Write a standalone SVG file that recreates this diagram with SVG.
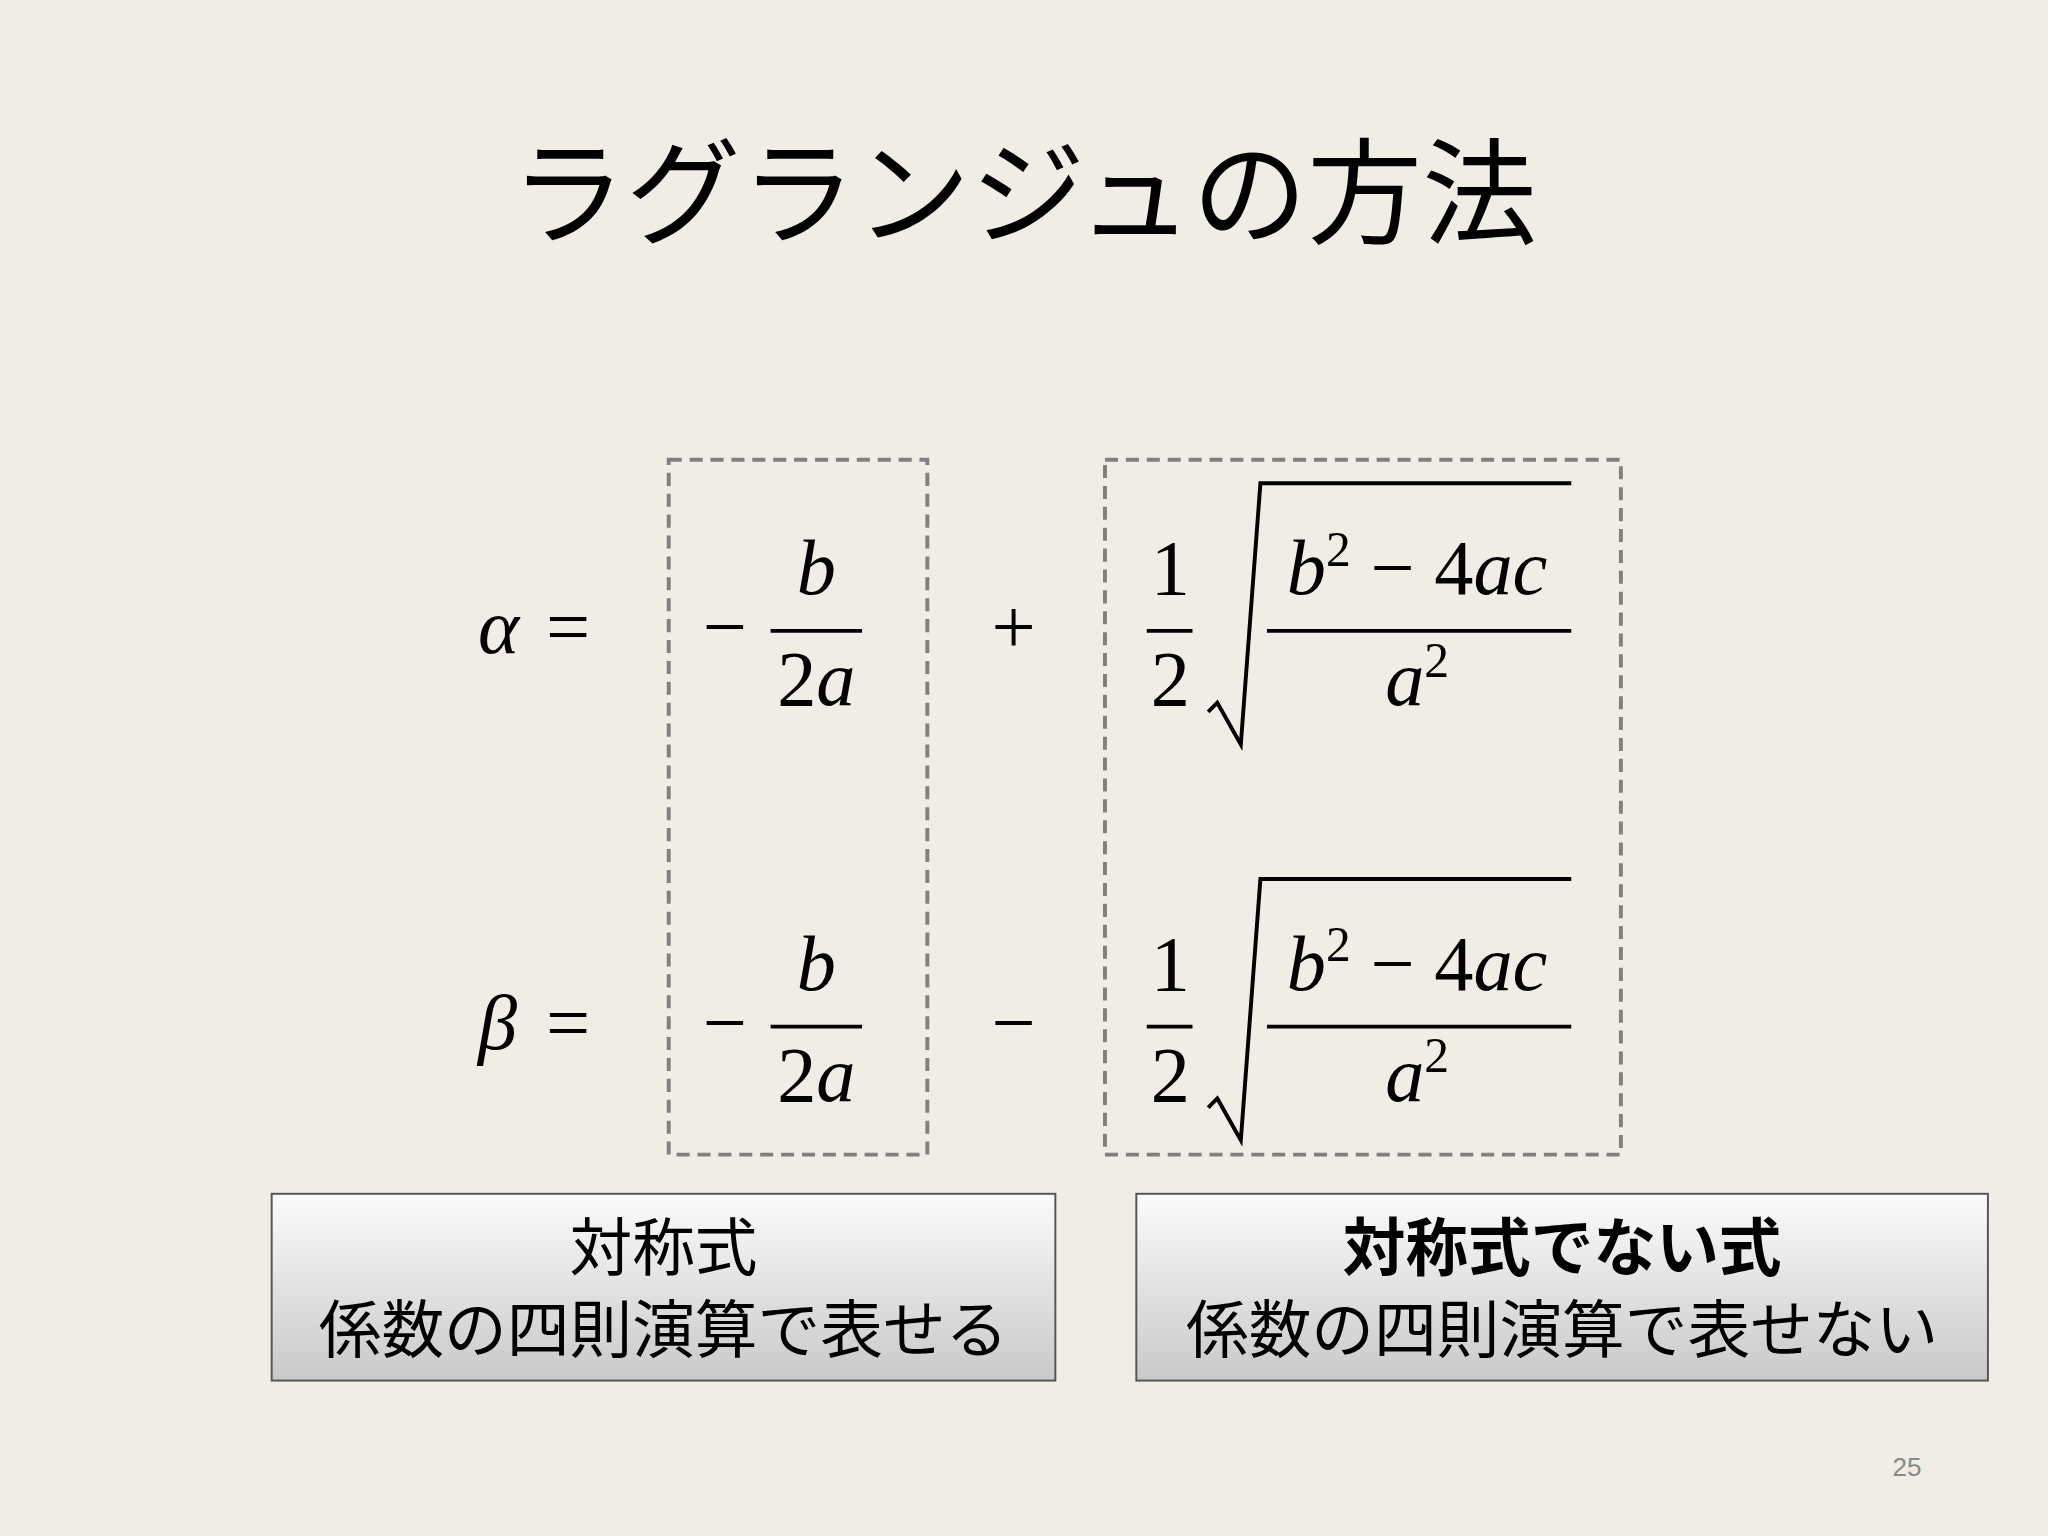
<svg xmlns="http://www.w3.org/2000/svg" width="2048" height="1536" viewBox="0 0 2048 1536">
<defs>
<linearGradient id="g" x1="0" y1="0" x2="0" y2="1"><stop offset="0" stop-color="#fbfbfb"/><stop offset="1" stop-color="#c9c9c9"/></linearGradient>
<style>
.m{font-family:"Liberation Serif","DejaVu Serif",serif;font-size:60px;fill:#000}
.i{font-style:italic}
.s{font-size:38px}
.j{font-family:"Noto Sans CJK JP",sans-serif;font-size:48px;fill:#000;text-anchor:middle}
.d{fill:none;stroke:#808080;stroke-width:3;stroke-dasharray:10,6}
.l{stroke:#000;stroke-width:3;fill:none}
.b{fill:url(#g);stroke:#555;stroke-width:1.5}
</style>
</defs>
<rect width="2048" height="1536" fill="#efede5"/>
<g transform="scale(1.30612)">
<text x="784" y="180" font-family="Noto Sans CJK JP,sans-serif" font-size="88" text-anchor="middle">ラグランジュの方法</text>
<g id="box1"><rect class="d" x="512" y="352" width="198" height="532"/></g>
<g id="box2"><rect class="d" x="846" y="352" width="395" height="532"/></g>
<g id="alpha">
<text class="m i" x="366" y="500">α</text><text class="m" x="418" y="500">=</text>
<text class="m" x="538" y="500">−</text>
<text class="m i" x="625" y="455" text-anchor="middle">b</text><line class="l" x1="590" y1="483" x2="660" y2="483"/>
<text class="m" x="625" y="540" text-anchor="middle">2<tspan class="i">a</tspan></text>
<text class="m" x="776" y="500" text-anchor="middle">+</text>
<text class="m" x="896" y="455" text-anchor="middle">1</text><line class="l" x1="878" y1="483" x2="913" y2="483"/>
<text class="m" x="896" y="540" text-anchor="middle">2</text>
<polyline class="l" points="925,545 932,538 950,570 965,370 1203,370"/>
<text class="m" x="1085" y="455" text-anchor="middle"><tspan class="i">b</tspan><tspan class="s" dy="-22">2</tspan><tspan dy="22"> − 4</tspan><tspan class="i">ac</tspan></text>
<line class="l" x1="970" y1="483" x2="1203" y2="483"/>
<text class="m" x="1085" y="540" text-anchor="middle"><tspan class="i">a</tspan><tspan class="s" dy="-22">2</tspan></text>
</g>
<g id="beta" transform="translate(0,303)">
<text class="m i" x="366" y="500">β</text><text class="m" x="418" y="500">=</text>
<text class="m" x="538" y="500">−</text>
<text class="m i" x="625" y="455" text-anchor="middle">b</text><line class="l" x1="590" y1="483" x2="660" y2="483"/>
<text class="m" x="625" y="540" text-anchor="middle">2<tspan class="i">a</tspan></text>
<text class="m" x="776" y="500" text-anchor="middle">−</text>
<text class="m" x="896" y="455" text-anchor="middle">1</text><line class="l" x1="878" y1="483" x2="913" y2="483"/>
<text class="m" x="896" y="540" text-anchor="middle">2</text>
<polyline class="l" points="925,545 932,538 950,570 965,370 1203,370"/>
<text class="m" x="1085" y="455" text-anchor="middle"><tspan class="i">b</tspan><tspan class="s" dy="-22">2</tspan><tspan dy="22"> − 4</tspan><tspan class="i">ac</tspan></text>
<line class="l" x1="970" y1="483" x2="1203" y2="483"/>
<text class="m" x="1085" y="540" text-anchor="middle"><tspan class="i">a</tspan><tspan class="s" dy="-22">2</tspan></text>
</g>
<g id="label1"><rect class="b" x="208" y="914" width="600" height="143"/>
<text class="j" x="508" y="972">対称式</text><text class="j" x="508" y="1035">係数の四則演算で表せる</text></g>
<g id="label2"><rect class="b" x="870" y="914" width="652" height="143"/>
<text class="j" x="1196" y="972" font-weight="bold">対称式でない式</text><text class="j" x="1196" y="1035">係数の四則演算で表せない</text></g>
<text x="1460" y="1130" font-family="Liberation Sans,sans-serif" font-size="20" fill="#888" text-anchor="middle">25</text>
</g>
</svg>
